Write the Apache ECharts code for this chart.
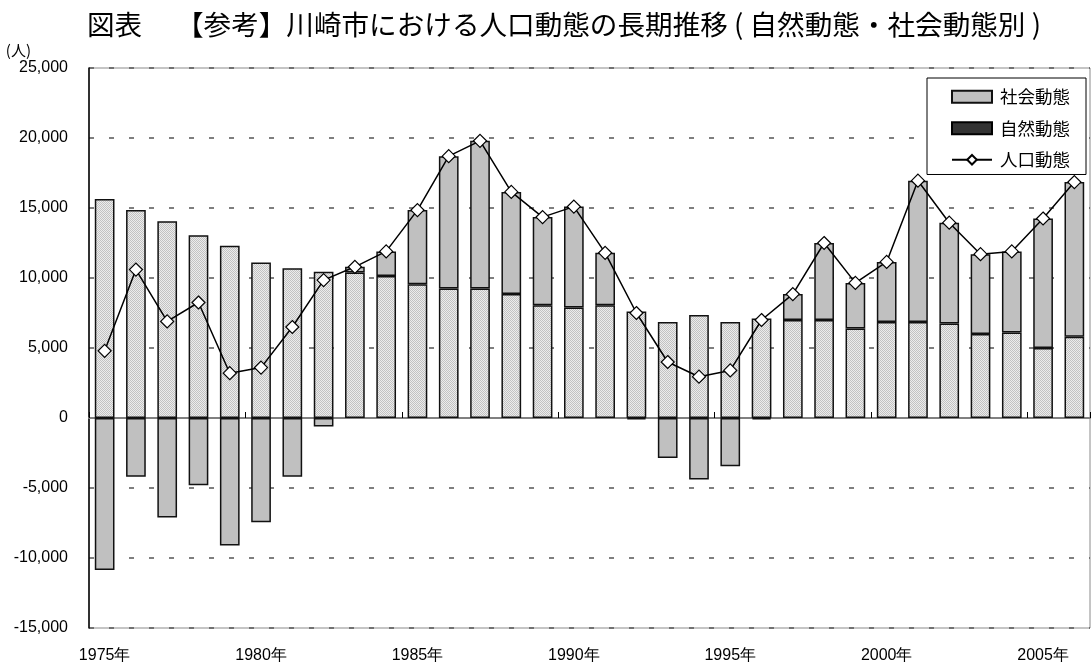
<!DOCTYPE html>
<html>
<head>
<meta charset="utf-8">
<script src="https://cdn.jsdelivr.net/npm/echarts@6/dist/echarts.min.js"></script>
<style>
    html, body { margin: 0; padding: 0; background: #fff; }
    #main { width: 1092px; height: 666px; }
</style>
</head>
<body>
<div id="main"></div>
<script>
var years = ['1975年', '1976年', '1977年', '1978年', '1979年', '1980年', '1981年', '1982年', '1983年', '1984年',
    '1985年', '1986年', '1987年', '1988年', '1989年', '1990年', '1991年', '1992年', '1993年', '1994年',
    '1995年', '1996年', '1997年', '1998年', '1999年', '2000年', '2001年', '2002年', '2003年', '2004年',
    '2005年', '2006年'];
// 自然動態
var natural = [15650, 14850, 14050, 13050, 12300, 11100, 10700, 10450, 10400, 10150,
    9550, 9250, 9250, 8850, 8050, 7900, 8050, 7600, 6850, 7350,
    6850, 7100, 7000, 7000, 6400, 6850, 6850, 6750, 6000, 6100,
    5000, 5800];
// 社会動態
var social = [-10850, -4200, -7100, -4800, -9100, -7450, -4200, -600, 400, 1750,
    5300, 9450, 10550, 7300, 6300, 7200, 3750, -100, -2850, -4400,
    -3450, -100, 1850, 5500, 3250, 4300, 10100, 7200, 5700, 5800,
    9250, 11050];
// 人口動態
var total = [4800, 10600, 6900, 8250, 3200, 3600, 6500, 9850, 10800, 11900,
    14850, 18700, 19800, 16150, 14350, 15100, 11800, 7500, 4000, 2950,
    3400, 7000, 8850, 12500, 9650, 11150, 16950, 13950, 11700, 11900,
    14250, 16850];

var titleText = '図表　 【参考】川崎市における人口動態の長期推移 ( 自然動態・社会動態別 )';
var fontJP = '"Noto Sans CJK JP", "Liberation Sans", sans-serif';
var fontNum = '"Liberation Sans", Arial, sans-serif';

function makeDots() {
    var c = document.createElement('canvas');
    c.width = 2;
    c.height = 2;
    var ctx = c.getContext('2d');
    ctx.fillStyle = '#ececec';
    ctx.fillRect(0, 0, 2, 2);
    ctx.fillStyle = '#c2c2c2';
    ctx.fillRect(0, 0, 1, 1);
    ctx.fillRect(1, 1, 1, 1);
    return c;
}

var dom = document.getElementById('main');
var myChart = echarts.init(dom);
var option = {
    animation: false,
    title: {
        text: titleText,
        left: 82,
        top: 6,
        textStyle: {
            fontFamily: fontJP,
            fontSize: 27.6,
            fontWeight: 'normal',
            color: '#000'
        }
    },
    legend: {
        orient: 'vertical',
        right: 6,
        top: 78,
        itemWidth: 40,
        itemHeight: 12,
        itemGap: 14,
        padding: [10, 16, 6, 24],
        borderColor: '#000',
        borderWidth: 1,
        backgroundColor: '#fff',
        textStyle: {
            fontFamily: fontJP,
            fontSize: 17.5,
            color: '#000',
            padding: [0, 0, 0, 3]
        },
        data: [
            { name: '社会動態', icon: 'rect' },
            { name: '自然動態', icon: 'rect', itemStyle: { color: '#333', borderColor: '#000' } },
            { name: '人口動態' }
        ]
    },
    grid: {
        left: 89,
        right: 2,
        top: 68,
        bottom: 38,
        show: true,
        borderColor: '#8a8a8a',
        borderWidth: 1
    },
    xAxis: [{
        type: 'category',
        data: years,
        position: 'bottom',
        axisLine: { show: false, onZero: false },
        axisTick: { show: false },
        axisLabel: {
            interval: 4,
            margin: 20,
            fontFamily: fontNum,
            fontSize: 16,
            color: '#000'
        }
    }, {
        type: 'category',
        data: years,
        position: 'bottom',
        axisLine: { show: true, onZero: true, lineStyle: { color: '#808080', width: 2 } },
        axisTick: { show: true, inside: true, interval: 4, length: 6, lineStyle: { color: '#000' } },
        axisLabel: { show: false }
    }],
    yAxis: {
        type: 'value',
        min: -15000,
        max: 25000,
        interval: 5000,
        name: '(人)',
        nameLocation: 'end',
        nameGap: 10,
        nameTextStyle: {
            fontFamily: fontJP,
            fontSize: 15,
            color: '#000',
            align: 'right',
            padding: [0, 58, 0, 0]
        },
        axisLine: { show: true, lineStyle: { color: '#000', width: 1.5 } },
        axisTick: { show: false },
        axisLabel: {
            margin: 21,
            fontFamily: fontNum,
            fontSize: 16,
            color: '#000'
        },
        splitLine: {
            lineStyle: {
                color: '#555',
                type: [5, 15],
                width: 1.5
            }
        }
    },
    series: [{
        name: '自然動態',
        type: 'bar',
        stack: 'pop',
        xAxisIndex: 0,
        barCategoryGap: '37%',
        itemStyle: {
            color: { image: makeDots(), repeat: 'repeat' },
            borderColor: '#111',
            borderWidth: 1.5
        },
        data: natural
    }, {
        name: '社会動態',
        type: 'bar',
        stack: 'pop',
        xAxisIndex: 0,
        barCategoryGap: '37%',
        itemStyle: {
            color: '#c0c0c0',
            borderColor: '#111',
            borderWidth: 1.5
        },
        data: social
    }, {
        name: '人口動態',
        type: 'line',
        xAxisIndex: 0,
        symbol: 'diamond',
        symbolSize: 13,
        z: 5,
        lineStyle: { color: '#000', width: 1.5 },
        itemStyle: { color: '#fff', borderColor: '#000', borderWidth: 1.2 },
        data: total
    }]
};
myChart.setOption(option, true);
</script>
</body>
</html>
